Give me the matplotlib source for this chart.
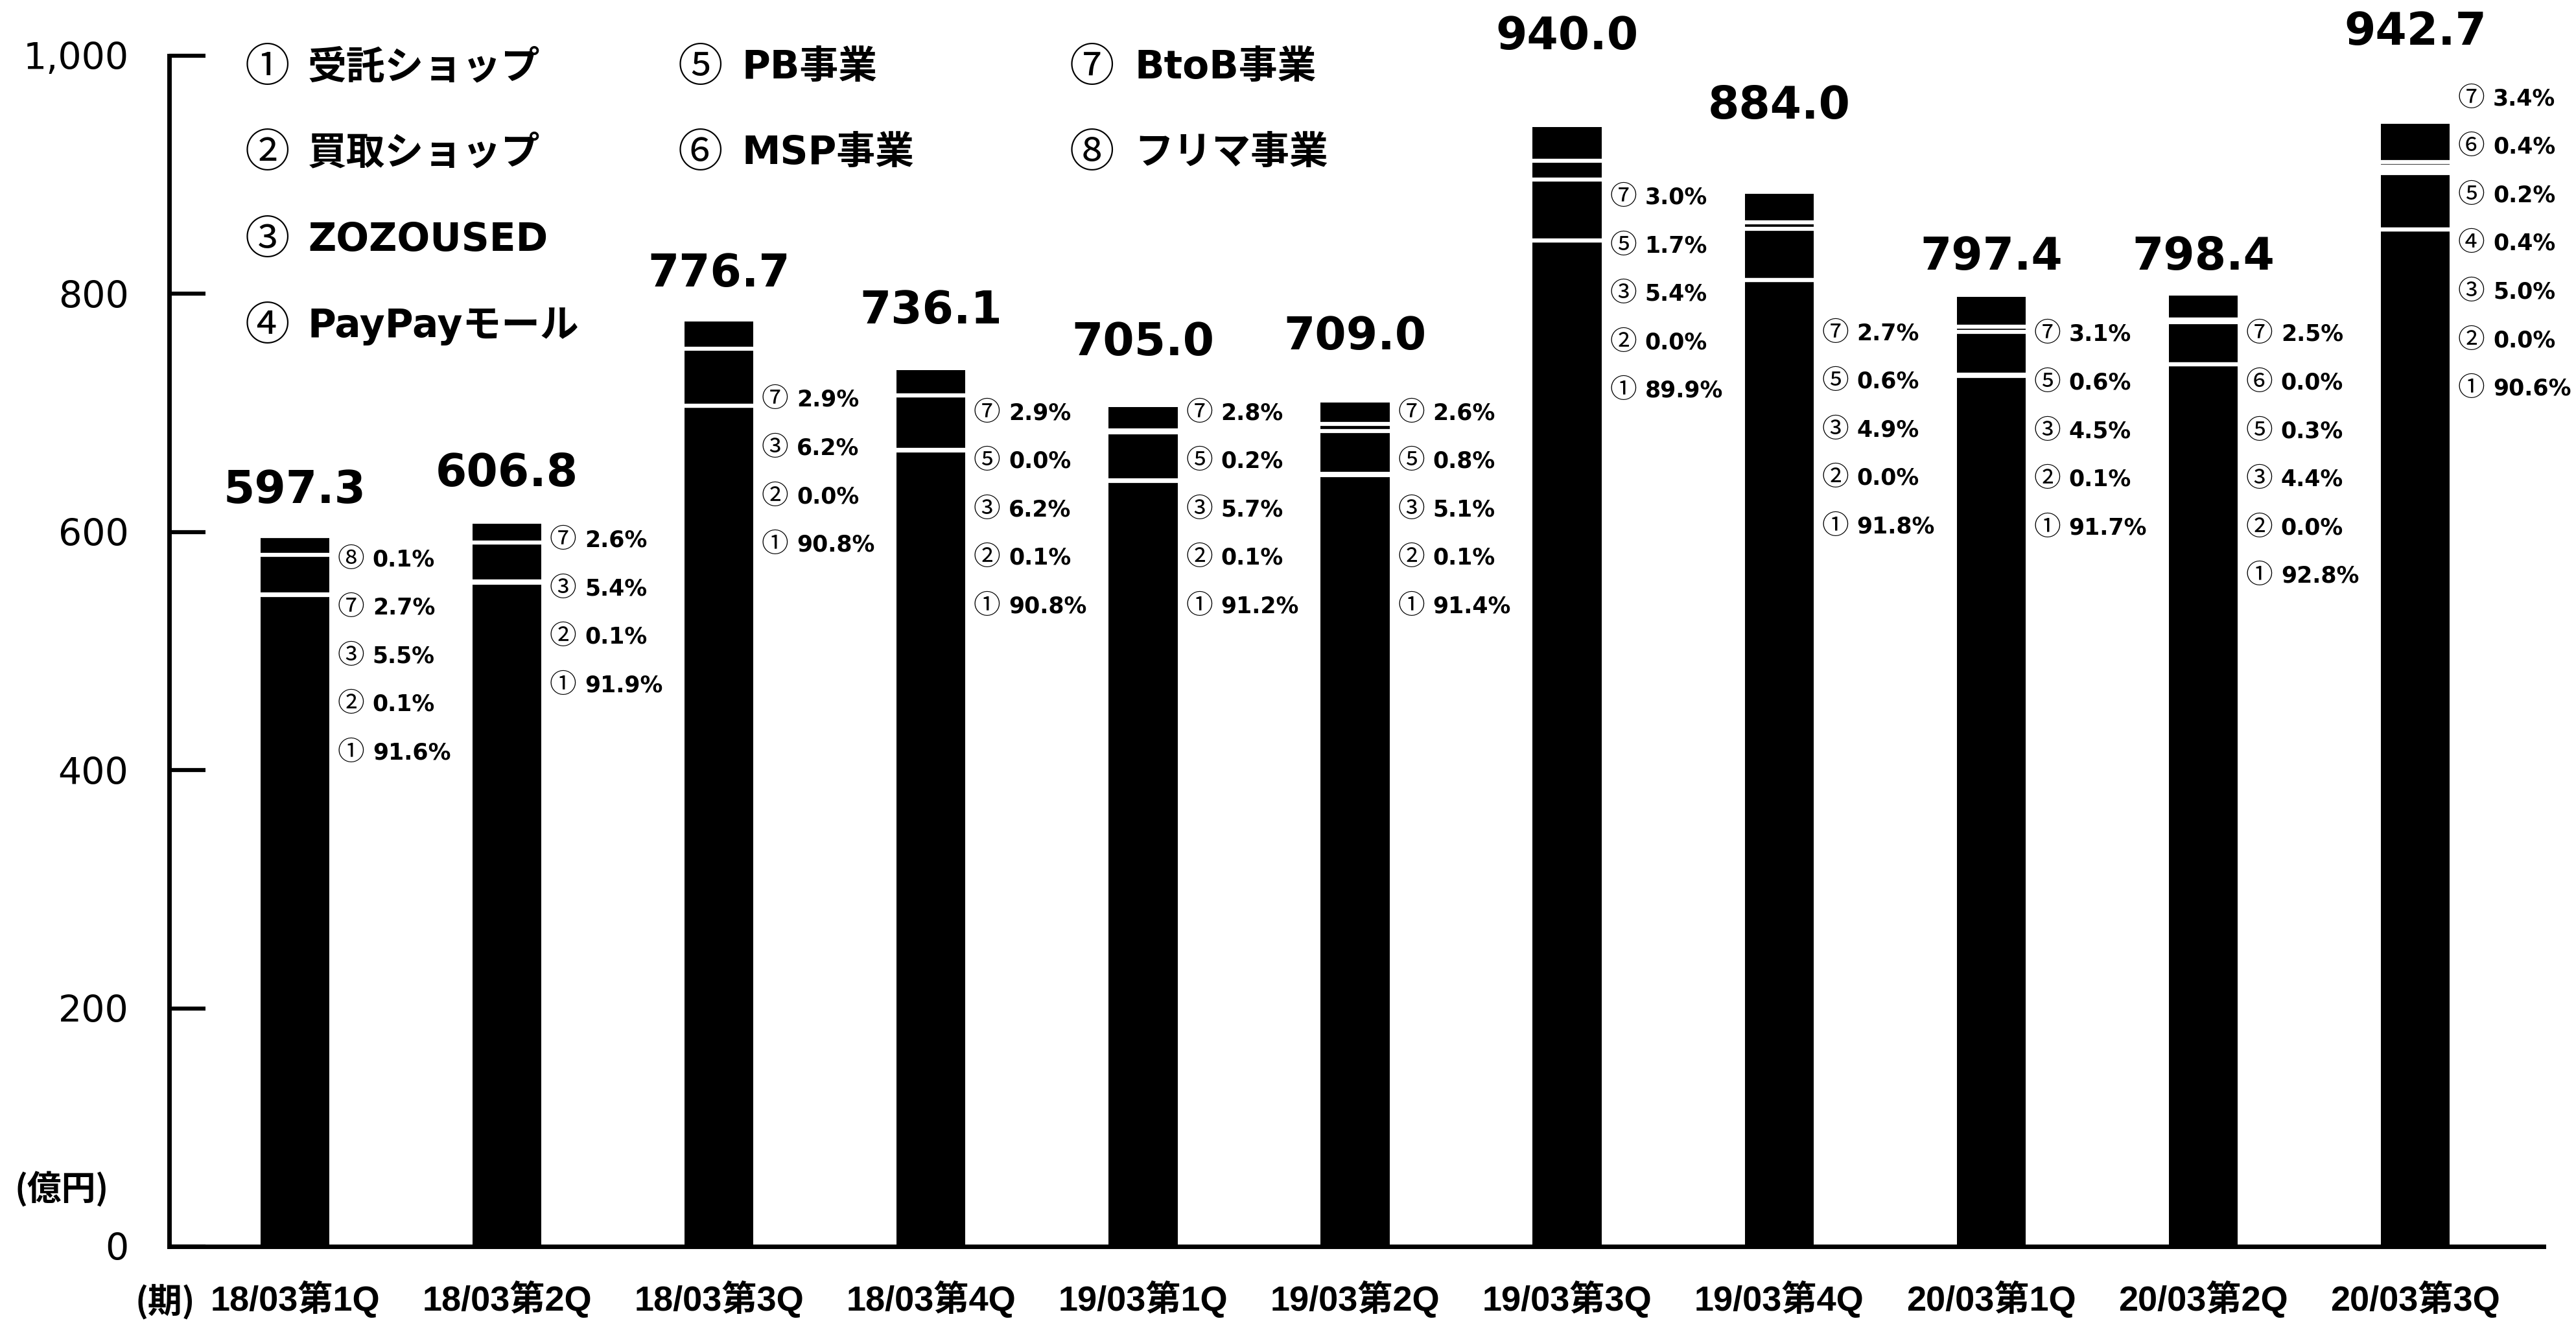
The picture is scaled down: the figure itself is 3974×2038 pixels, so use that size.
import numpy as np
import matplotlib
matplotlib.use("Agg")
import matplotlib.pyplot as plt
from matplotlib.ticker import FuncFormatter

nan = np.nan

# Quarterly sales by business (億円) and business shares (%)
periods = ["18/03第1Q", "18/03第2Q", "18/03第3Q", "18/03第4Q",
           "19/03第1Q", "19/03第2Q", "19/03第3Q", "19/03第4Q",
           "20/03第1Q", "20/03第2Q", "20/03第3Q"]
totals = [597.3, 606.8, 776.7, 736.1, 705.0, 709.0, 940.0, 884.0, 797.4, 798.4, 942.7]

share_1 = [91.6, 91.9, 90.8, 90.8, 91.2, 91.4, 89.9, 91.8, 91.7, 92.8, 90.6]   # 受託ショップ
share_2 = [0.1, 0.1, 0.0, 0.1, 0.1, 0.1, 0.0, 0.0, 0.1, 0.0, 0.0]              # 買取ショップ
share_3 = [5.5, 5.4, 6.2, 6.2, 5.7, 5.1, 5.4, 4.9, 4.5, 4.4, 5.0]              # ZOZOUSED
share_4 = [nan, nan, nan, nan, nan, nan, nan, nan, nan, nan, 0.4]              # PayPayモール
share_5 = [nan, nan, nan, 0.0, 0.2, 0.8, 1.7, 0.6, 0.6, 0.3, 0.2]              # PB事業
share_6 = [nan, nan, nan, nan, nan, nan, nan, nan, nan, 0.0, 0.4]              # MSP事業
share_7 = [2.7, 2.6, 2.9, 2.9, 2.8, 2.6, 3.0, 2.7, 3.1, 2.5, 3.4]              # BtoB事業
share_8 = [0.1, nan, nan, nan, nan, nan, nan, nan, nan, nan, nan]              # フリマ事業

circled = ["①", "②", "③", "④", "⑤", "⑥", "⑦", "⑧"]
business_names = ["受託ショップ", "買取ショップ", "ZOZOUSED", "PayPayモール",
                  "PB事業", "MSP事業", "BtoB事業", "フリマ事業"]
y_ticks = [0, 200, 400, 600, 800, 1000]

# ---- layout ----
W, H = 3974, 2038
fig = plt.figure(figsize=(W / 100, H / 100), dpi=100)
fig.patch.set_facecolor("white")
ax = fig.add_axes([261 / W, 1 - 1923 / H, (3924 - 261) / W, (1923 - 86) / H])
ax.set_facecolor("white")

NUM_FONT = ["DejaVu Sans", "Noto Sans CJK JP"]
JP_FONT = ["Liberation Sans", "Noto Sans CJK JP"]
CIRCLE_FONT = "Noto Sans CJK JP"

x = np.arange(len(periods))
bar_w = 0.325
ax.set_xlim(-0.593, 10.605)
ax.set_ylim(0, 1000)

shares = np.array([share_1, share_2, share_3, share_4,
                   share_5, share_6, share_7, share_8], dtype=float)
tot = np.array(totals)
row_sum = np.nansum(shares, axis=0)
present = ~np.isnan(shares)
amounts = np.nan_to_num(shares) / row_sum * tot

# stacked black bars
bottom = np.zeros(len(x))
tops = []
for k in range(len(shares)):
    ax.bar(x, amounts[k], bar_w, bottom=bottom, color="black", linewidth=0, zorder=2)
    bottom = bottom + amounts[k]
    tops.append(bottom.copy())
tops = np.array(tops)

# white separators between segments
for i in range(len(x)):
    idx = np.where(present[:, i])[0]
    for k in idx[:-1]:
        ax.hlines(tops[k, i], x[i] - bar_w / 2, x[i] + bar_w / 2,
                  color="white", lw=4.5, zorder=3)

# share labels beside each bar
share_label_top = [577, 593, 711, 700, 700, 700, 881, 767, 766, 766, 964]
share_label_step = 40.6
for i in range(len(x)):
    idx = np.where(present[:, i])[0][::-1]
    for j, k in enumerate(idx):
        yy = share_label_top[i] - j * share_label_step
        ax.annotate(circled[k], (x[i] + bar_w / 2, yy), xytext=(9, 0),
                    textcoords="offset points", ha="left", va="center",
                    fontsize=30, family=CIRCLE_FONT, annotation_clip=False)
        ax.annotate(f"{shares[k, i]:.1f}%", (x[i] + bar_w / 2, yy), xytext=(48, 0),
                    textcoords="offset points", ha="left", va="center",
                    fontsize=25, fontweight="bold", family=NUM_FONT,
                    annotation_clip=False)

# total labels
total_label_y = [635, 649, 817, 786, 759, 764, 1016, 958, 831, 831, 1020]
for i in range(len(x)):
    ax.text(x[i], total_label_y[i], f"{totals[i]:.1f}", ha="center", va="center",
            fontsize=50, fontweight="bold", family="DejaVu Sans", clip_on=False)

# axes styling
for side in ["top", "right"]:
    ax.spines[side].set_visible(False)
ax.spines["left"].set_linewidth(5)
ax.spines["left"].set_bounds(0, 1000)
ax.spines["bottom"].set_linewidth(5)
ax.spines["bottom"].set_zorder(4)

ax.set_yticks(y_ticks)
ax.yaxis.set_major_formatter(FuncFormatter(lambda v, p: f"{v:,.0f}"))
ax.tick_params(axis="y", direction="in", length=40, width=4.5, pad=45,
               labelsize=41)
for lab in ax.get_yticklabels():
    lab.set_family("DejaVu Sans")

ax.set_xticks(x)
ax.tick_params(axis="x", length=0, pad=38)
ax.set_xticklabels(periods, fontsize=39, fontweight="bold", family=JP_FONT)

fig.text(95 / W, 1 - 1835 / H, "(億円)", ha="center", va="center",
         fontsize=38, fontweight="bold", family="Noto Sans CJK JP")
fig.text(255 / W, 1 - 2008 / H, "(期)", ha="center", va="center",
         fontsize=38, fontweight="bold", family="Noto Sans CJK JP")

# business key
key_circle_x = [378, 378, 378, 378, 1046, 1046, 1650, 1650]
key_text_x = [475, 475, 475, 475, 1145, 1145, 1750, 1750]
key_y = [105, 237, 371, 504, 105, 237, 105, 237]
for k in range(len(business_names)):
    fig.text(key_circle_x[k] / W, 1 - key_y[k] / H, circled[k], ha="left", va="center",
             fontsize=50, family=CIRCLE_FONT)
    fig.text(key_text_x[k] / W, 1 - key_y[k] / H, business_names[k], ha="left", va="center",
             fontsize=43, fontweight="bold", family=NUM_FONT)

fig.savefig("out.png", dpi=100, facecolor="white")
